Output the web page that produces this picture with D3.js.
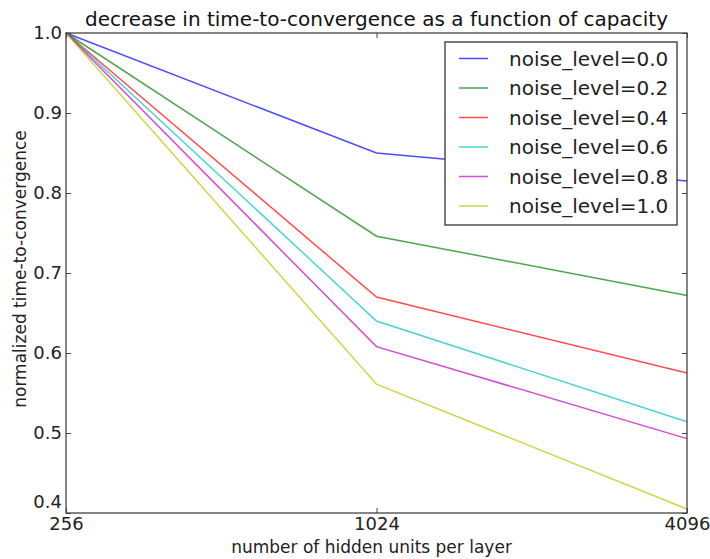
<!DOCTYPE html>
<html>
<head>
<meta charset="utf-8">
<script src="https://cdn.jsdelivr.net/npm/d3@7"></script>
<style>
  body { margin: 0; background: #fff; }
  svg { display: block; font-family: "DejaVu Sans", sans-serif; }
  .axis path, .axis line { stroke: #444; }
  .axis text { fill: #222; font-size: 18px; font-family: "DejaVu Sans", sans-serif; }
</style>
</head>
<body>
<div id="chart"></div>
<script>
// data
var units = [256, 1024, 4096];
var noiseLevels = ["0.0", "0.2", "0.4", "0.6", "0.8", "1.0"];
var colors = ["#0000ff", "#008000", "#ff0000", "#00bfbf", "#bf00bf", "#bfbf00"];
var values = [
  [1.0, 0.850, 0.815],
  [1.0, 0.746, 0.672],
  [1.0, 0.670, 0.575],
  [1.0, 0.640, 0.514],
  [1.0, 0.608, 0.493],
  [1.0, 0.561, 0.405]
];
var yTicks = [0.4, 0.5, 0.6, 0.7, 0.8, 0.9, 1.0];

var W = 710, H = 559;
var margin = { top: 33, right: 23, bottom: 46, left: 66 },
  width = W - margin.left - margin.right,
  height = H - margin.top - margin.bottom;

var svg = d3.select("#chart").append("svg")
  .attr("width", W)
  .attr("height", H);

svg.append("rect").attr("width", W).attr("height", H).attr("fill", "#fff");

var g = svg.append("g")
  .attr("transform", "translate(" + margin.left + "," + margin.top + ")");

var x = d3.scaleLog().base(2) // units grow by powers of 2
  .domain([256, 4096])
  .range([0, width]);

var y = d3.scaleLinear()
  .domain([0.4, 1.0])
  .range([height, 0]);

var line = d3.line()
  .x(function (d, i) { return x(units[i]); })
  .y(function (d) { return y(d); });

g.selectAll(".series")
  .data(values)
  .enter().append("path")
  .attr("class", "series")
  .attr("d", line)
  .attr("fill", "none")
  .attr("stroke", function (d, i) { return colors[i]; })
  .attr("stroke-opacity", 0.7)
  .attr("stroke-width", 1.5);

// axes, ticks pointing inwards like matplotlib
var xAxis = d3.axisBottom(x).tickValues(units).tickFormat(d3.format("d"))
  .tickSize(-5).tickPadding(4);
var yAxis = d3.axisLeft(y).tickValues(yTicks).tickFormat(d3.format(".1f"))
  .tickSize(-5).tickPadding(4);

var gx = g.append("g").attr("class", "x axis")
  .attr("transform", "translate(0," + height + ")")
  .call(xAxis);
var gy = g.append("g").attr("class", "y axis").call(yAxis);

// top and right ticks
g.append("g").attr("class", "axis")
  .call(d3.axisTop(x).tickValues(units).tickSize(-5).tickFormat(""));
g.append("g").attr("class", "axis")
  .attr("transform", "translate(" + width + ",0)")
  .call(d3.axisRight(y).tickValues(yTicks).tickSize(-5).tickFormat(""));

g.selectAll(".axis path").remove();
g.selectAll(".axis line").attr("stroke-width", 1);

// bottom label 0.4 is pushed up
gy.selectAll(".tick text").filter(function (d) { return d == 0.4; })
  .attr("dy", "-0.29em");

// frame
g.append("rect")
  .attr("width", width)
  .attr("height", height)
  .attr("fill", "none")
  .attr("stroke", "#444")
  .attr("stroke-width", 1.3);

svg.append("text")
  .attr("x", margin.left + width / 2)
  .attr("y", 26)
  .attr("text-anchor", "middle")
  .style("font-size", "20px")
  .attr("fill", "#111")
  .text("decrease in time-to-convergence as a function of capacity");

svg.append("text")
  .attr("x", margin.left + width / 2 - 5)
  .attr("y", 553)
  .attr("text-anchor", "middle")
  .style("font-size", "17px")
  .attr("fill", "#222")
  .text("number of hidden units per layer");

svg.append("text")
  .attr("transform", "translate(26," + (margin.top + height / 2 - 4) + ") rotate(-90)")
  .attr("text-anchor", "middle")
  .style("font-size", "17px")
  .attr("fill", "#222")
  .text("normalized time-to-convergence");

// legend
var legend = svg.append("g").attr("transform", "translate(445,42)");
legend.append("rect")
  .attr("width", 232)
  .attr("height", 183)
  .attr("fill", "#fff")
  .attr("stroke", "#333")
  .attr("stroke-width", 1.3);

var item = legend.selectAll(".item")
  .data(noiseLevels)
  .enter().append("g")
  .attr("class", "item")
  .attr("transform", function (d, i) { return "translate(0," + (16.5 + i * 29.5) + ")"; });

item.append("line")
  .attr("x1", 14).attr("x2", 43)
  .attr("stroke", function (d, i) { return colors[i]; })
  .attr("stroke-opacity", 0.7)
  .attr("stroke-width", 1.5);

item.append("text")
  .attr("x", 64)
  .attr("dy", "0.35em")
  .style("font-size", "20px")
  .attr("fill", "#222")
  .text(function (d) { return "noise_level=" + d; });
</script>
</body>
</html>
